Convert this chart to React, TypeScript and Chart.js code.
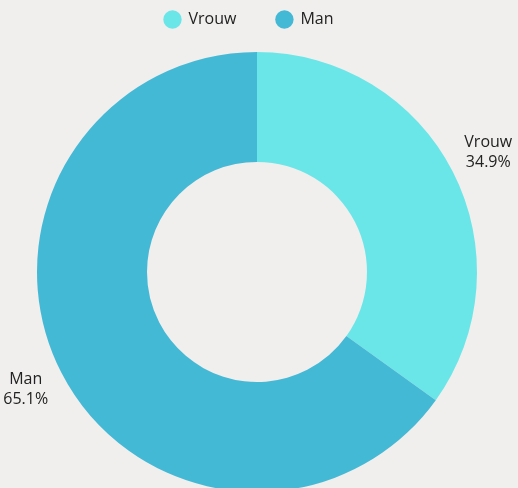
import React, { useEffect, useRef } from "react";
import { Chart, registerables } from "chart.js";

Chart.register(...registerables);

const categories = ["Vrouw", "Man"];
const values = [34.9, 65.1];
const colors = ["#6ae6e8", "#44b9d6"];

const FONT = "'Open Sans', 'Noto Sans', sans-serif";
const LEGEND_GAP = 40;
const PAD_TOP = 52 - (16 + LEGEND_GAP + 10);

const outsideLabels = {
  id: "outsideLabels",
  afterLayout(chart: any) {
    // place the legend row near the top despite its wide item spacing
    const legend = chart.legend;
    const shift = legend.top + LEGEND_GAP + 8 - 19.5;
    legend.top -= shift;
    legend.bottom -= shift;
    legend.left -= 8;
    legend.right -= 8;
  },
  afterDatasetsDraw(chart: any) {
    const ctx = chart.ctx;
    const meta = chart.getDatasetMeta(0);
    ctx.save();
    ctx.font = `16px ${FONT}`;
    ctx.fillStyle = "#222222";
    ctx.textAlign = "center";
    ctx.textBaseline = "middle";
    meta.data.forEach((arc: any, i: number) => {
      const p = arc.getProps(["x", "y", "startAngle", "endAngle", "outerRadius"], true);
      const mid = (p.startAngle + p.endAngle) / 2;
      const r = p.outerRadius + 40;
      const x = p.x + Math.cos(mid) * r;
      const y = p.y + Math.sin(mid) * r;
      const v = chart.data.datasets[0].data[i];
      ctx.fillText(chart.data.labels[i], x, y - 11);
      ctx.fillText(v.toFixed(1) + "%", x, y + 9);
    });
    ctx.restore();
  },
};

export default function App() {
  const ref = useRef<HTMLCanvasElement | null>(null);
  useEffect(() => {
    document.body.style.margin = "0";
    document.body.style.background = "#f0efed";
    const chart = new Chart(ref.current!, {
      type: "doughnut",
      data: {
        labels: categories,
        datasets: [
          {
            data: values,
            backgroundColor: colors,
            borderWidth: 0,
          },
        ],
      },
      options: {
        animation: false,
        responsive: false,
        cutout: "50%",
        layout: { padding: { top: PAD_TOP, bottom: 8, left: 37, right: 41 } },
        plugins: {
          legend: {
            position: "top",
            labels: {
              usePointStyle: true,
              pointStyle: "circle",
              boxWidth: 16,
              boxHeight: 13,
              padding: LEGEND_GAP,
              color: "#222222",
              font: { family: FONT, size: 16 },
            },
          },
          tooltip: { enabled: false },
        },
      },
      plugins: [outsideLabels],
    });
    return () => chart.destroy();
  }, []);
  return (
    <div style={{ position: "absolute", left: 0, top: 0, width: 518, height: 500 }}>
      <canvas ref={ref} width={518} height={500} />
    </div>
  );
}
